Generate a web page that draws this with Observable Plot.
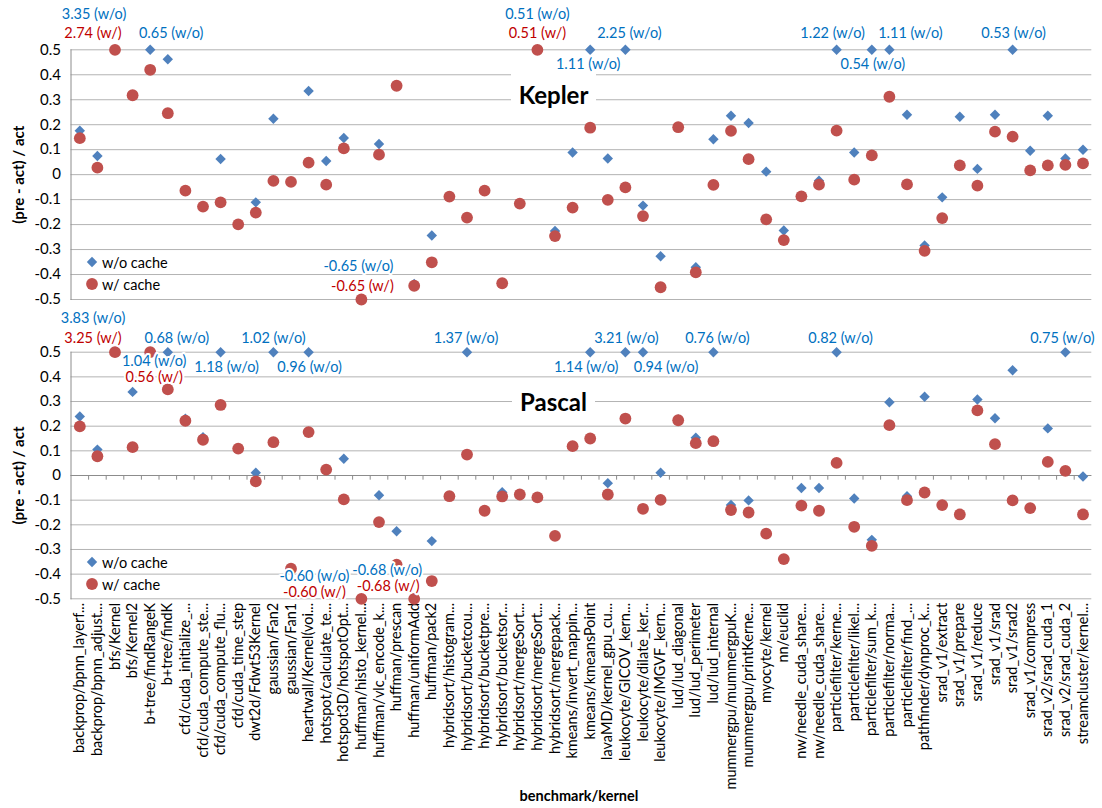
<!DOCTYPE html>
<html>
<head>
<meta charset="utf-8">
<script src="https://cdn.jsdelivr.net/npm/d3@7"></script>
<script src="https://cdn.jsdelivr.net/npm/@observablehq/plot@0.6"></script>
<style>
  body { margin: 0; background: #fff; }
  #wrap { position: relative; width: 1102px; height: 808px; font-family: Lato, "Open Sans", sans-serif; color: #000; }
  .panel { position: absolute; left: 0; }
  .title { position: absolute; background: #fff; font-weight: bold; font-size: 24px; text-align: center; }
  .legend { position: absolute; font-size: 14.5px; }
  .legend div { display: flex; align-items: center; height: 22px; }
  .legend svg { margin-right: 3px; }
  .xtitle { position: absolute; font-weight: bold; font-size: 14.5px; transform: translateX(-50%); }
  g[aria-label="note"] text { letter-spacing: 0.5px; }
</style>
</head>
<body>
<div id="wrap">
  <div id="top" class="panel" style="top:0"></div>
  <div id="bot" class="panel" style="top:300px"></div>
</div>
<script>
const categories = [
  "backprop/bpnn_layerf...", "backprop/bpnn_adjust...", "bfs/Kernel", "bfs/Kernel2",
  "b+tree/findRangeK", "b+tree/findK", "cfd/cuda_initialize_...", "cfd/cuda_compute_ste...",
  "cfd/cuda_compute_flu...", "cfd/cuda_time_step", "dwt2d/Fdwt53Kernel", "gaussian/Fan2",
  "gaussian/Fan1", "heartwall/Kernel(voi...", "hotspot/calculate_te...", "hotspot3D/hotspotOpt...",
  "huffman/histo_kernel...", "huffman/vlc_encode_k...", "huffman/prescan", "huffman/uniformAdd",
  "huffman/pack2", "hybridsort/histogram...", "hybridsort/bucketcou...", "hybridsort/bucketpre...",
  "hybridsort/bucketsor...", "hybridsort/mergeSort...", "hybridsort/mergeSort...", "hybridsort/mergepack...",
  "kmeans/invert_mappin...", "kmeans/kmeansPoint", "lavaMD/kernel_gpu_cu...", "leukocyte/GICOV_kern...",
  "leukocyte/dilate_ker...", "leukocyte/IMGVF_kern...", "lud/lud_diagonal", "lud/lud_perimeter",
  "lud/lud_internal", "mummergpu/mummergpuK...", "mummergpu/printKerne...", "myocyte/kernel",
  "nn/euclid", "nw/needle_cuda_share...", "nw/needle_cuda_share...", "particlefilter/kerne...",
  "particlefilter/likel...", "particlefilter/sum_k...", "particlefilter/norma...", "particlefilter/find_...",
  "pathfinder/dynproc_k...", "srad_v1/extract", "srad_v1/prepare", "srad_v1/reduce",
  "srad_v1/srad", "srad_v1/srad2", "srad_v1/compress", "srad_v2/srad_cuda_1",
  "srad_v2/srad_cuda_2", "streamcluster/kernel..."
];

const keplerWithout = [
  0.176, 0.075, 3.35, 0.318, 0.65, 0.462, -0.064, -0.128, 0.063, -0.199,
  -0.111, 0.224, -0.029, 0.335, 0.055, 0.147, -0.65, 0.123, 0.356, -0.438,
  -0.244, -0.088, -0.172, -0.064, -0.435, -0.116, 0.51, -0.226, 0.089, 1.11,
  0.065, 2.25, -0.124, -0.327, 0.19, -0.371, 0.142, 0.236, 0.207, 0.012,
  -0.224, -0.087, -0.024, 1.22, 0.089, 0.54, 1.11, 0.24, -0.284, -0.091,
  0.232, 0.023, 0.24, 0.53, 0.096, 0.236, 0.065, 0.1
];
const keplerWith = [
  0.146, 0.028, 2.74, 0.318, 0.42, 0.246, -0.064, -0.128, -0.111, -0.199,
  -0.152, -0.025, -0.029, 0.048, -0.04, 0.105, -0.65, 0.08, 0.356, -0.445,
  -0.351, -0.088, -0.172, -0.064, -0.435, -0.116, 0.51, -0.246, -0.132, 0.188,
  -0.101, -0.051, -0.166, -0.451, 0.19, -0.391, -0.041, 0.175, 0.062, -0.179,
  -0.262, -0.087, -0.04, 0.176, -0.02, 0.077, 0.312, -0.039, -0.305, -0.174,
  0.037, -0.044, 0.172, 0.152, 0.017, 0.037, 0.039, 0.045
];
const pascalWithout = [
  0.239, 0.105, 3.83, 0.339, 1.04, 0.68, 0.23, 0.155, 1.18, 0.109,
  0.011, 1.02, -0.378, 0.96, 0.024, 0.068, -0.60, -0.08, -0.226, -0.68,
  -0.266, -0.084, 1.37, -0.143, -0.068, -0.077, -0.089, -0.245, 0.119, 1.14,
  -0.031, 3.21, 0.94, 0.011, 0.227, 0.153, 0.76, -0.12, -0.101, -0.236,
  -0.339, -0.051, -0.051, 0.82, -0.093, -0.261, 0.297, -0.084, 0.319, -0.12,
  -0.158, 0.308, 0.232, 0.427, -0.132, 0.191, 0.75, -0.004
];
const pascalWith = [
  0.199, 0.078, 3.25, 0.115, 0.56, 0.349, 0.222, 0.145, 0.286, 0.109,
  -0.024, 0.135, -0.378, 0.176, 0.024, -0.097, -0.60, -0.189, -0.362, -0.68,
  -0.428, -0.084, 0.085, -0.143, -0.085, -0.077, -0.089, -0.245, 0.119, 0.15,
  -0.077, 0.231, -0.135, -0.099, 0.224, 0.131, 0.139, -0.14, -0.15, -0.236,
  -0.339, -0.122, -0.143, 0.051, -0.208, -0.285, 0.204, -0.1, -0.069, -0.12,
  -0.158, 0.264, 0.127, -0.101, -0.132, 0.055, 0.019, -0.158
];

const yTicks = [0.5, 0.4, 0.3, 0.2, 0.1, 0, -0.1, -0.2, -0.3, -0.4, -0.5];

// Off-scale value labels: [category number (1-based), series, label offset x, label offset y]
const keplerNotes = [
  [3, "wo", -21, -35], [3, "w", -22, -16], [5, "wo", 21, -16],
  [17, "wo", -3, -33], [17, "w", 1, -13],
  [27, "wo", 0, -35], [27, "w", 0, -16], [30, "wo", -2, 15], [32, "wo", 4, -16],
  [44, "wo", -4, -16], [46, "wo", 1, 15], [47, "wo", 21, -16], [54, "wo", 1, -16]
];
const pascalNotes = [
  [3, "wo", -22, -34], [3, "w", -22, -14], [5, "wo", 4, 9], [5, "w", 4, 25],
  [6, "wo", 9, -14], [9, "wo", 6, 15], [12, "wo", 0, -14], [14, "wo", 1, 15],
  [17, "wo", -47, -22], [17, "w", -47, -6], [20, "wo", -27, -28], [20, "w", -26, -12],
  [23, "wo", -1, -14], [30, "wo", -4, 15], [32, "wo", 1, -14], [33, "wo", 23, 15],
  [37, "wo", 4, -14], [44, "wo", 4, -14], [57, "wo", -3, -14]
];

const BLUE = "#4f81bd", RED = "#c0504d", BLUE_T = "#0070c0", RED_T = "#c00000";
const GRID = "#b3b3b3", AXIS = "#8c8c8c";
const FONT = "Lato, 'Open Sans', sans-serif";

function panel({wo, w, notes, showX, height, marginTop, marginBottom}) {
  const data = categories.map((c, i) => ({i, wo: wo[i], w: w[i]}));
  const marks = [
    Plot.gridY(yTicks, {stroke: GRID, strokeOpacity: 1}),
    Plot.frame({anchor: "left", stroke: AXIS}),
    Plot.axisY(yTicks, {tickSize: 0, tickPadding: 10, fontSize: 15, label: null,
      tickFormat: d => d === 0 ? "0" : d.toFixed(1)}),
    Plot.text(["(pre - act) / act"], {frameAnchor: "left", textAnchor: "middle", rotate: -90,
      dx: -52, fontWeight: "bold", fontSize: 15})
  ];
  if (showX) {
    marks.push(
      Plot.ruleY([0], {stroke: AXIS}),
      Plot.ruleX(d3.range(1, categories.length), {x: d => d, y1: 0, y2: -0.019, dx: -8.8, stroke: AXIS}),
      Plot.axisX({anchor: "bottom", tickRotate: -90, tickSize: 0, tickPadding: 4, fontSize: 14.5,
        label: null, tickFormat: i => categories[i]})
    );
  }
  marks.push(
    Plot.dot(data, {x: "i", y: "wo", symbol: "diamond2", r: 4.7, fill: BLUE}),
    Plot.dot(data, {x: "i", y: "w", symbol: "circle", r: 5.9, fill: RED})
  );
  for (const [k, s, dx, dy] of notes) {
    const v = s === "wo" ? wo[k - 1] : w[k - 1];
    marks.push(Plot.text([{i: k - 1, v}], {
      x: "i", y: "v", dx, dy, ariaLabel: "note",
      text: d => `${d.v.toFixed(2)} (${s === "wo" ? "w/o" : "w/"})`,
      fill: s === "wo" ? BLUE_T : RED_T, fontSize: 14.5,
      stroke: "white", strokeWidth: 4, paintOrder: "stroke"
    }));
  }
  return Plot.plot({
    width: 1102, height, marginTop, marginBottom, marginLeft: 70.5, marginRight: 10.7,
    style: {fontFamily: FONT, fontSize: "14.5px", color: "#000", background: "transparent", overflow: "visible"},
    x: {type: "band", domain: d3.range(categories.length), padding: 0, axis: null},
    y: {domain: [-0.5, 0.5], clamp: true, axis: null},
    marks
  });
}

document.getElementById("top").append(panel({
  wo: keplerWithout, w: keplerWith, notes: keplerNotes, showX: false,
  height: 306, marginTop: 49.3, marginBottom: 7
}));
document.getElementById("bot").append(panel({
  wo: pascalWithout, w: pascalWith, notes: pascalNotes, showX: true,
  height: 508, marginTop: 51.7, marginBottom: 209.7
}));

const wrap = document.getElementById("wrap");
function addTitle(text, left, top, width, height) {
  const d = document.createElement("div");
  d.className = "title";
  Object.assign(d.style, {left: left + "px", top: top + "px", width: width + "px", height: height + "px", lineHeight: height + "px"});
  d.textContent = text;
  wrap.append(d);
}
addTitle("Kepler", 511, 73, 85, 43);
addTitle("Pascal", 512, 381, 83, 42);

function addLegend(top) {
  const d = document.createElement("div");
  d.className = "legend";
  Object.assign(d.style, {left: "85px", top: top + "px"});
  d.innerHTML =
    `<div><svg width="14" height="14"><path d="M7 1.8 L12.2 7 L7 12.2 L1.8 7Z" fill="${BLUE}"/></svg>w/o cache</div>` +
    `<div><svg width="14" height="14"><circle cx="7" cy="7" r="5.9" fill="${RED}"/></svg>w/ cache</div>`;
  wrap.append(d);
}
addLegend(251);
addLegend(551);

const xt = document.createElement("div");
xt.className = "xtitle";
Object.assign(xt.style, {left: "579px", top: "787px"});
xt.textContent = "benchmark/kernel";
wrap.append(xt);
</script>
</body>
</html>
